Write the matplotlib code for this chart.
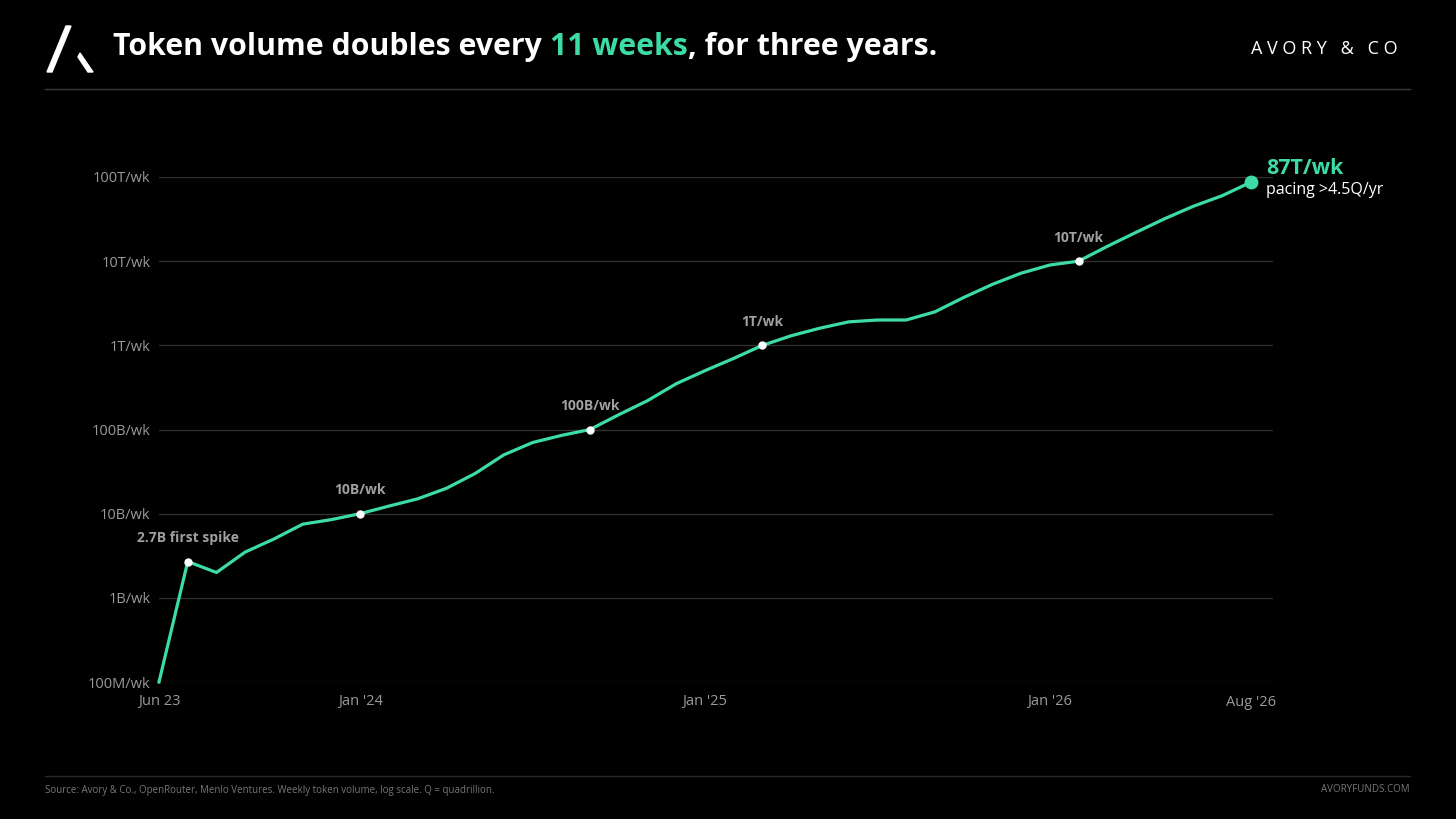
import matplotlib.pyplot as plt
from matplotlib.patches import Polygon

# monthly index from Jun '23 (0) to Aug '26 (38)
months = list(range(39))
volume = [1e8, 2.7e9, 2e9, 3.5e9, 5e9, 7.5e9, 8.5e9, 1e10, 1.23e10, 1.5e10,
          2e10, 3e10, 5e10, 7e10, 8.5e10, 1e11, 1.5e11, 2.2e11, 3.5e11, 5e11,
          7e11, 1e12, 1.3e12, 1.6e12, 1.9e12, 2e12, 2e12, 2.5e12, 3.7e12, 5.3e12,
          7.2e12, 9e12, 1e13, 1.5e13, 2.2e13, 3.2e13, 4.5e13, 6e13, 8.7e13]
marker_idx = [1, 7, 15, 21, 32]
marker_labels = ["2.7B first spike", "10B/wk", "100B/wk", "1T/wk", "10T/wk"]
y_ticks = [1e8, 1e9, 1e10, 1e11, 1e12, 1e13, 1e14]
y_labels = ["100M/wk", "1B/wk", "10B/wk", "100B/wk", "1T/wk", "10T/wk", "100T/wk"]
x_ticks = [0, 7, 19, 31, 38]
x_labels = ["Jun 23", "Jan '24", "Jan '25", "Jan '26", "Aug '26"]

GREEN = "#3ddba6"
plt.rcParams['font.family'] = ['Open Sans', 'DejaVu Sans']

fig = plt.figure(figsize=(14.56, 8.19), dpi=100, facecolor="black")
ax = fig.add_axes([159/1456, 1-682/819, (1273-159)/1456, (682-177)/819])
ax.set_facecolor("black")
ax.set_yscale("log")
ax.plot(months, volume, color=GREEN, lw=2.3, clip_on=False, zorder=3)
for i, lab in zip(marker_idx, marker_labels):
    ax.plot(months[i], volume[i], 'o', color="white", ms=5, zorder=4, clip_on=False)
    ax.annotate(lab, (months[i], volume[i]), xytext=(0, 14), textcoords="offset points",
                ha="center", color="#a0a0a0", fontsize=10, fontweight="bold")
ax.plot(months[-1], volume[-1], 'o', color=GREEN, ms=9, zorder=5, clip_on=False)
ax.annotate("87T/wk", (months[-1], volume[-1]), xytext=(11, 2), textcoords="offset points",
            color=GREEN, fontsize=15.5, fontweight="bold", va="bottom")
ax.annotate("pacing >4.5Q/yr", (months[-1], volume[-1]), xytext=(11, 0), textcoords="offset points",
            color="white", fontsize=11.5, va="top")

ax.set_xlim(0, 38 + 22/28.75)
ax.set_ylim(1e8, 1e14)
ax.set_yticks(y_ticks)
ax.set_yticklabels(y_labels)
ax.minorticks_off()
ax.set_xticks(x_ticks)
ax.set_xticklabels(x_labels)
ax.tick_params(colors="#9a9a9a", labelsize=10.5, length=0, pad=6)
ax.tick_params(axis="x", pad=9)
for s in ax.spines.values():
    s.set_visible(False)
ax.grid(axis="y", color="#333333", lw=0.9)

# header
TS = 21.8
t1 = fig.text(113/1456, 1-47/819, "Token volume doubles every ", color="white", fontsize=TS,
              fontweight="bold", va="center")
fig.canvas.draw()
r = fig.canvas.get_renderer()
bb = t1.get_window_extent(r)
t2 = fig.text(bb.x1/1456, 1-47/819, "11 weeks", color=GREEN, fontsize=TS, fontweight="bold", va="center")
bb2 = t2.get_window_extent(r)
fig.text(bb2.x1/1456, 1-47/819, ", for three years.", color="white", fontsize=TS,
         fontweight="bold", va="center")
fig.text(1398/1456, 1-49/819, "A V O R Y   &   C O", color="white", fontsize=13, ha="right", va="center")
fig.patches.append(Polygon([(47/1456, 1-72/819), (66/1456, 1-26/819), (71/1456, 1-26/819), (52/1456, 1-72/819)],
                           closed=True, color="white", transform=fig.transFigure))
fig.patches.append(Polygon([(80/1456, 1-53/819), (93/1456, 1-72/819), (88/1456, 1-72/819), (78/1456, 1-57/819)],
                           closed=True, color="white", transform=fig.transFigure))
fig.add_artist(plt.Line2D([45/1456, 1410/1456], [1-89/819]*2, color="#3a3a3a", lw=1))
fig.add_artist(plt.Line2D([45/1456, 1410/1456], [1-776/819]*2, color="#2a2a2a", lw=1))
fig.text(45/1456, 1-790/819, "Source: Avory & Co., OpenRouter, Menlo Ventures. Weekly token volume, log scale. Q = quadrillion.",
         color="#777777", fontsize=7, va="center")
fig.text(1410/1456, 1-790/819, "AVORYFUNDS.COM", color="#777777", fontsize=7, va="center", ha="right")

fig.savefig("out.png", dpi=100, facecolor="black")
